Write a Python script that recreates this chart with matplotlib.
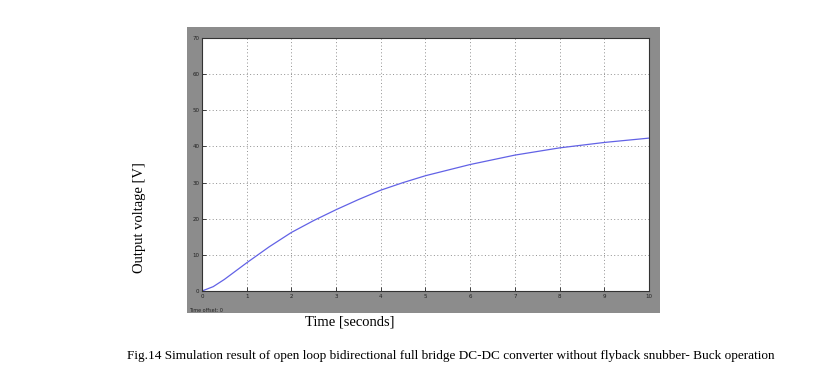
import matplotlib.pyplot as plt

# output voltage
t = [0, 0.25, 0.5, 0.75, 1, 1.5, 2, 2.5, 3, 3.5, 4, 4.5, 5, 6, 7, 8, 9, 10]
v = [0, 1.2, 3.2, 5.5, 7.8, 12.2, 16.2, 19.5, 22.5, 25.3, 27.9, 30.0, 31.9, 35.0, 37.6, 39.6, 41.1, 42.3]
xticks = list(range(0, 11))
yticks = list(range(0, 71, 10))

fig = plt.figure(figsize=(8.29, 3.75), dpi=100)
fig.patch.set_facecolor('white')

# grey scope panel behind the axes
bg = fig.add_axes([187/829, 1-313/375, 473/829, 286/375])
bg.set_facecolor('#8c8c8c')
bg.set_xticks([])
bg.set_yticks([])
for s in bg.spines.values():
    s.set_visible(False)

ax = fig.add_axes([202/829, 1-291/375, 447/829, 253/375])
ax.set_facecolor('white')
ax.plot(t, v, color='#6262e6', lw=0.9)
ax.set_xlim(0, 10)
ax.set_ylim(0, 70)
ax.set_xticks(xticks)
ax.set_yticks(yticks)
ax.tick_params(direction='in', labelsize=4, length=3, width=0.6, colors='#222222',
               pad=2)
ax.grid(True, linestyle=(0, (1, 2.5)), color='#909090', lw=0.7)
for s in ax.spines.values():
    s.set_color('#333333')
    s.set_linewidth(0.8)

fig.text(189/829, 1-311/375, 'Time offset: 0', fontsize=3.5, color='#222222',
         va='center', ha='left')

serif = ['Liberation Serif', 'DejaVu Serif']
fig.text(140/829, 1-218/375, 'Output voltage [V]', rotation=90, fontsize=10.5,
         family=serif, ha='center', va='center')
fig.text(350/829, 1-322/375, 'Time [seconds]', fontsize=10.5, family=serif,
         ha='center', va='center')
fig.text(451/829, 1-356/375,
         'Fig.14 Simulation result of open loop bidirectional full bridge DC-DC converter without flyback snubber- Buck operation',
         fontsize=9.55, family=serif, ha='center', va='center')

fig.savefig('out.png', dpi=100)
